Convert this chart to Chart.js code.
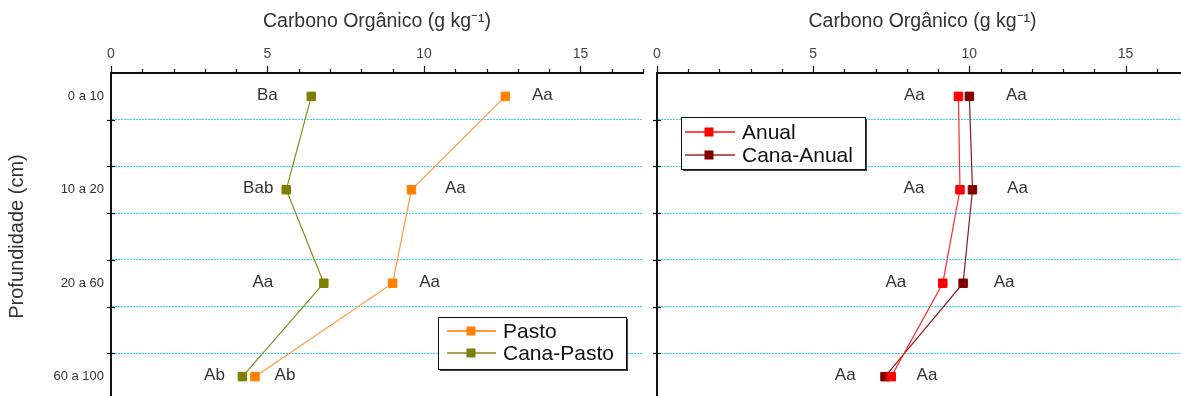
<!DOCTYPE html>
<html>
<head>
<meta charset="utf-8">
<script src="https://cdn.jsdelivr.net/npm/chart.js@4"></script>
<style>
  html, body { margin: 0; padding: 0; background: #fff; overflow: hidden; width: 1181px; height: 396px; }
  canvas { position: absolute; top: 0; }
  #left { left: 0; }
  #right { left: 650px; }
</style>
</head>
<body>
<canvas id="left" width="650" height="400"></canvas>
<canvas id="right" width="560" height="400"></canvas>
<script>
// Soil depth layers (cm)
const depths = ['0 a 10', '10 a 20', '20 a 60', '60 a 100'];

// Organic carbon (g/kg) per depth layer
const pasto      = [12.6, 9.6, 9.0, 4.6];
const canaPasto  = [6.4, 5.6, 6.8, 4.2];
const anual      = [9.65, 9.7, 9.15, 7.5];
const canaAnual  = [10.0, 10.1, 9.8, 7.3];

// Mean-comparison letters per point
const pastoLetters     = ['Aa', 'Aa', 'Aa', 'Ab'];
const canaPastoLetters = ['Ba', 'Bab', 'Aa', 'Ab'];
const anualLetters     = ['Aa', 'Aa', 'Aa', 'Aa'];
const canaAnualLetters = ['Aa', 'Aa', 'Aa', 'Aa'];

const xTitle = 'Carbono Orgânico (g kg⁻¹)';
const yTitle = 'Profundidade (cm)';
const xMin = 0, xMax = 17;

// ---- styling ----
const FONT = "'Liberation Sans', Arial, sans-serif";
const GRID_CYAN = '#22dde3';
const AXIS = '#111';

const pts = vals => vals.map((v, i) => ({ x: v, y: i }));

// Axis tick marks: upward ticks on the top axis, cross ticks on the depth axis
const axisDecor = {
  id: 'axisDecor',
  afterDraw(chart) {
    const { ctx, chartArea: a, scales: { x, y } } = chart;
    ctx.save();
    ctx.strokeStyle = AXIS;
    ctx.lineWidth = 1.2;
    for (let v = x.min; v <= x.max; v += 1) {
      const px = Math.round(x.getPixelForValue(v)) + 0.5;
      const len = v % 5 === 0 ? 7 : 4;
      ctx.beginPath();
      ctx.moveTo(px, a.top);
      ctx.lineTo(px, a.top - len);
      ctx.stroke();
    }
    y.ticks.forEach(t => {
      if (Number.isInteger(t.value)) return;
      const py = Math.round(y.getPixelForValue(t.value)) + 0.5;
      ctx.beginPath();
      ctx.moveTo(a.left - 4, py);
      ctx.lineTo(a.left + 4, py);
      ctx.stroke();
    });
    ctx.restore();
  }
};

// Letters written beside each point
const letterLabels = {
  id: 'letterLabels',
  afterDatasetsDraw(chart, args, o) {
    const ctx = chart.ctx;
    ctx.save();
    ctx.font = `17px ${FONT}`;
    ctx.fillStyle = '#333';
    ctx.textAlign = 'center';
    ctx.textBaseline = 'middle';
    (o.sets || []).forEach(s => {
      const meta = chart.getDatasetMeta(s.dataset);
      meta.data.forEach((pt, i) => {
        ctx.fillText(s.letters[i], pt.x + s.dx[i], pt.y - 1);
      });
    });
    ctx.restore();
  }
};

// Boxed legend with drop shadow inside the plot
const boxLegend = {
  id: 'boxLegend',
  afterDraw(chart, args, o) {
    if (!o || o.w === undefined) return;
    const ctx = chart.ctx;
    ctx.save();
    ctx.fillStyle = '#444';
    ctx.fillRect(o.x + 2, o.y + 2, o.w, o.h);
    ctx.fillStyle = '#fff';
    ctx.fillRect(o.x, o.y, o.w, o.h);
    ctx.strokeStyle = '#111';
    ctx.lineWidth = 1;
    ctx.strokeRect(o.x + 0.5, o.y + 0.5, o.w, o.h);
    chart.data.datasets.forEach((ds, i) => {
      const cy = o.y + o.first + i * o.gap;
      ctx.strokeStyle = ds.legendLine;
      ctx.lineWidth = 2;
      ctx.beginPath();
      ctx.moveTo(o.x + o.lineX0, cy);
      ctx.lineTo(o.x + o.lineX1, cy);
      ctx.stroke();
      ctx.fillStyle = ds.pointBackgroundColor;
      ctx.fillRect(o.x + o.markX - 4.5, cy - 4.5, 9, 9);
      ctx.fillStyle = '#111';
      ctx.font = `21px ${FONT}`;
      ctx.textAlign = 'left';
      ctx.textBaseline = 'middle';
      ctx.fillText(ds.label, o.x + o.textX, cy + 1);
    });
    ctx.restore();
  }
};

function series(label, vals, line, mark, legendLine) {
  return {
    label,
    data: pts(vals),
    showLine: true,
    borderColor: line,
    borderWidth: 1.2,
    legendLine,
    pointStyle: 'rect',
    pointRadius: 6,
    pointBorderWidth: 1,
    pointBackgroundColor: mark,
    pointBorderColor: mark
  };
}

// Depth labels sit on whole values; grid lines and ticks sit between them
function yTicks(scale) {
  const vals = [];
  for (let i = 0; i < depths.length; i++) {
    vals.push(i);
    if (i < depths.length - 1) { vals.push(i + 0.25, i + 0.75); }
  }
  scale.ticks = vals.map(v => ({ value: v }));
}

function makeChart(id, datasets, opts) {
  return new Chart(document.getElementById(id), {
    type: 'scatter',
    data: { datasets },
    options: {
      responsive: false,
      animation: false,
      events: [],
      layout: { autoPadding: false, padding: { left: 0, top: 0, right: opts.padRight, bottom: 0 } },
      plugins: {
        legend: { display: false },
        tooltip: { enabled: false },
        letterLabels: { sets: opts.letters },
        boxLegend: opts.legend
      },
      scales: {
        x: {
          type: 'linear',
          position: 'top',
          min: xMin,
          max: xMax,
          grid: { display: false, drawTicks: false },
          border: { display: true, color: AXIS, width: 2 },
          ticks: {
            stepSize: 1,
            autoSkip: false,
            maxRotation: 0,
            padding: 10,
            color: '#444',
            font: { family: FONT, size: 14 },
            callback: v => (v % 5 === 0 ? String(v) : '')
          },
          title: {
            display: true,
            text: xTitle,
            color: '#333',
            font: { family: FONT, size: 19.5 },
            padding: { top: 10, bottom: 0 }
          },
          afterFit: s => { s.height = 73; s.paddingLeft = 0; s.paddingRight = 0; }
        },
        y: {
          type: 'linear',
          reverse: true,
          min: -0.25,
          max: depths.length - 0.75,
          afterBuildTicks: yTicks,
          grid: {
            drawTicks: false,
            lineWidth: 1,
            color: c => (Number.isInteger(c.tick.value) ? 'rgba(0,0,0,0)' : GRID_CYAN)
          },
          border: { display: true, color: AXIS, width: 2, dash: [2, 1] },
          ticks: {
            display: opts.showDepths,
            autoSkip: false,
            padding: 7,
            color: '#333',
            font: { family: FONT, size: 13 },
            callback: v => (Number.isInteger(v) ? depths[v] : '')
          },
          title: {
            display: opts.showDepths,
            text: yTitle,
            color: '#333',
            font: { family: FONT, size: 20 },
            padding: { top: 5, bottom: 0 }
          },
          afterFit: s => { s.width = opts.yWidth; s.paddingTop = 0; s.paddingBottom = 0; }
        }
      }
    },
    plugins: [axisDecor, letterLabels, boxLegend]
  });
}

makeChart('left', [
  series('Pasto', pasto, '#ff9a3c', '#ff7f00', '#ff9a3c'),
  series('Cana-Pasto', canaPasto, '#8c8c1e', '#808000', '#a3a35a')
], {
  padRight: 7,
  yWidth: 111,
  showDepths: true,
  letters: [
    { dataset: 0, letters: pastoLetters, dx: [37, 44, 37, 30] },
    { dataset: 1, letters: canaPastoLetters, dx: [-44, -28, -61, -28] }
  ],
  legend: { x: 438, y: 317, w: 188, h: 52, first: 14, gap: 22, lineX0: 9, lineX1: 58, markX: 33, textX: 65 }
});

makeChart('right', [
  series('Anual', anual, '#ff2a2a', '#ff0000', '#ff4a4a'),
  series('Cana-Anual', canaAnual, '#8a1c1c', '#800000', '#b06060')
], {
  padRight: 22,
  yWidth: 7,
  showDepths: false,
  letters: [
    { dataset: 0, letters: anualLetters, dx: [-44, -46, -47, -46] },
    { dataset: 1, letters: canaAnualLetters, dx: [47, 45, 41, 42] }
  ],
  legend: { x: 31, y: 117, w: 184, h: 52, first: 15, gap: 23, lineX0: 4, lineX1: 54, markX: 28, textX: 61 }
});
</script>
</body>
</html>
